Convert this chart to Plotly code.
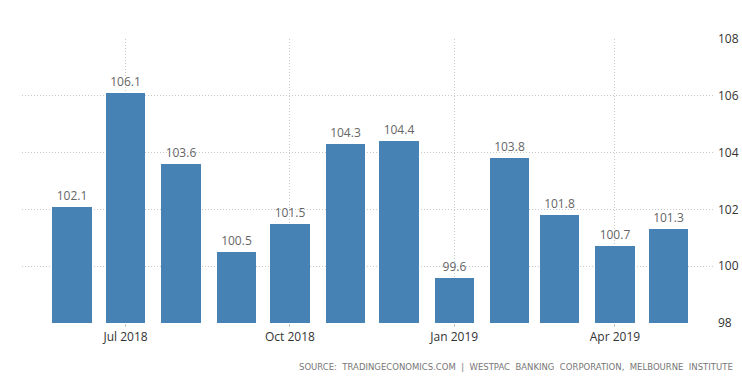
import plotly.graph_objects as go

months = ["2018-06-01", "2018-07-01", "2018-08-01", "2018-09-01", "2018-10-01", "2018-11-01",
          "2018-12-01", "2019-01-01", "2019-02-01", "2019-03-01", "2019-04-01", "2019-05-01"]
values = [102.1, 106.1, 103.6, 100.5, 101.5, 104.3, 104.4, 99.6, 103.8, 101.8, 100.7, 101.3]
xtick_vals = ["2018-07-01", "2018-10-01", "2019-01-01", "2019-04-01"]
xtick_text = ["Jul 2018", "Oct 2018", "Jan 2019", "Apr 2019"]
ytick_vals = [98, 100, 102, 104, 106, 108]
source = "SOURCE:  TRADINGECONOMICS.COM  |  WESTPAC  BANKING  CORPORATION,  MELBOURNE  INSTITUTE"

fig = go.Figure(go.Bar(
    x=months, y=values,
    width=22 * 86400000,
    marker=dict(color="#4682B4", line=dict(width=0)),
    text=[f"{v:.1f}" for v in values],
    textposition="outside",
    textfont=dict(color="#666666", size=12, family="Open Sans"),
    cliponaxis=False,
))

fig.update_layout(
    width=742, height=388,
    margin=dict(l=22, r=27, t=39, b=65, autoexpand=False),
    paper_bgcolor="white", plot_bgcolor="white",
    showlegend=False,
    font=dict(family="Open Sans", color="#333333", size=12),
    bargap=0,
)
fig.update_xaxes(
    type="date",
    range=["2018-05-04", "2019-05-27"],
    tickvals=xtick_vals, ticktext=xtick_text,
    showgrid=True, gridcolor="#c8c8c8", griddash="1px,2px", gridwidth=1,
    showline=False, zeroline=False, automargin=False,
    ticks="outside", ticklen=3, tickcolor="#c8c8c8",
    tickfont=dict(size=12, color="#333333"),
)
fig.update_yaxes(
    side="right", range=[98, 108],
    tickvals=ytick_vals,
    showgrid=True, gridcolor="#c8c8c8", griddash="1px,2px", gridwidth=1,
    showline=False, zeroline=False, automargin=False,
    ticks="", ticklabelstandoff=2, tickfont=dict(size=12, color="#333333"),
)
fig.add_annotation(
    text=source, xref="paper", yref="paper", x=1.029, y=-0.155,
    xanchor="right", yanchor="middle", showarrow=False,
    font=dict(size=8.5, color="#777777", family="DejaVu Sans"),
)
fig.write_html(
    "out.html",
    config={"displayModeBar": False},
    post_script="document.body.style.margin='0';document.body.style.overflow='hidden';",
)
